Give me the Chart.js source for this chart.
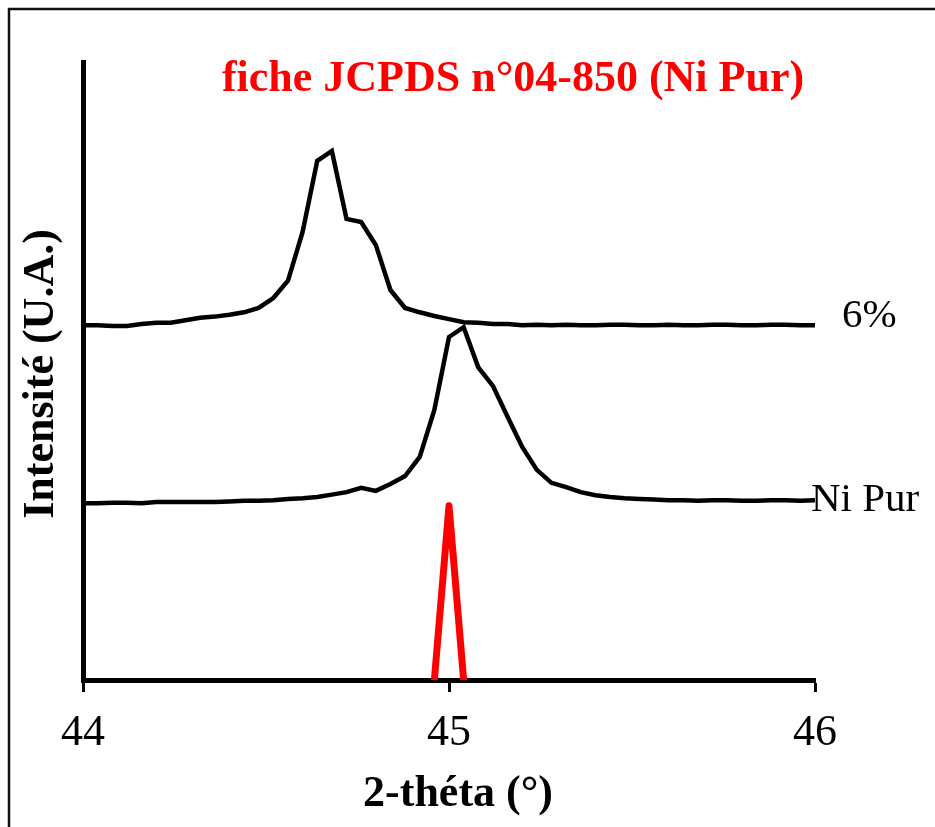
<!DOCTYPE html>
<html>
<head>
<meta charset="utf-8">
<title>DRX Ni</title>
<script src="https://cdn.jsdelivr.net/npm/chart.js@4.4.1/dist/chart.umd.min.js"></script>
<style>
  html, body { margin: 0; padding: 0; background: #fff; }
  #wrap { width: 935px; height: 827px; }
</style>
</head>
<body>
<div id="wrap"><canvas id="drx"></canvas></div>
<script>
// 2-theta grid (degrees), one step every 0.04
const twoTheta = [];
for (let k = 0; k <= 50; k++) twoTheta.push(+(44 + k * 0.04).toFixed(2));

// intensities (a.u.), curves already shifted for display
const int6pct = [
    574, 574, 573, 573, 576, 578, 578, 582, 586, 588,
    591, 595, 602, 618, 646, 725, 840, 856, 746, 741,
    704, 631, 602, 595, 589, 584, 579, 578, 576, 576,
    574, 575, 574, 575, 574, 574, 575, 575, 574, 574,
    575, 574, 574, 575, 575, 574, 574, 575, 575, 574, 574
];
const intNiPur = [
    286, 286, 287, 287, 286, 288, 288, 288, 288, 288,
    289, 290, 290, 291, 293, 294, 296, 300, 304, 311,
    306, 317, 330, 361, 437, 555, 571, 506, 476, 426,
    377, 340, 319, 312, 304, 299, 296, 294, 293, 292,
    291, 291, 290, 291, 291, 290, 290, 291, 291, 290, 291
];

// reference line, JCPDS card 04-850
const jcpdsTheta = [44.96, 45.00, 45.04];
const jcpdsInt = [0, 282, 0];

const toPoints = (xs, ys) => xs.map((x, i) => ({ x: x, y: ys[i] }));

const serif = "'Liberation Serif', 'Times New Roman', serif";

// frame + free text drawn straight on the canvas
const textPlugin = {
    id: "drxText",
    beforeDraw(chart) {
        const ctx = chart.ctx;
        ctx.save();
        ctx.strokeStyle = "#111";
        ctx.lineWidth = 2.5;
        ctx.beginPath();
        ctx.moveTo(9, chart.height);
        ctx.lineTo(9, 9);
        ctx.lineTo(chart.width, 9);
        ctx.stroke();
        ctx.restore();
    },
    afterDraw(chart) {
        const ctx = chart.ctx;
        ctx.save();
        ctx.textBaseline = "alphabetic";

        ctx.fillStyle = "#ff0000";
        ctx.textAlign = "center";
        ctx.font = "bold 44px " + serif;
        ctx.fillText("fiche JCPDS n°04-850 (Ni Pur)", 513, 91);

        ctx.fillStyle = "#000";
        ctx.textAlign = "left";
        ctx.font = "41px " + serif;
        ctx.fillText("6%", 842, 327);
        ctx.fillText("Ni Pur", 811, 511);

        ctx.textAlign = "center";
        ctx.font = "bold 44px " + serif;
        ctx.fillText("2-théta (°)", 458, 806);

        ctx.translate(53, 374);
        ctx.rotate(-Math.PI / 2);
        ctx.fillText("Intensité (U.A.)", 0, 0);
        ctx.restore();
    }
};

const lineSet = (label, data, color, width) => ({
    label: label,
    data: data,
    showLine: true,
    borderColor: color,
    borderWidth: width,
    pointRadius: 0,
    tension: 0,
    fill: false
});

new Chart(document.getElementById("drx"), {
    type: "scatter",
    data: {
        datasets: [
            lineSet("6%", toPoints(twoTheta, int6pct), "#000", 4.5),
            lineSet("Ni Pur", toPoints(twoTheta, intNiPur), "#000", 4.5),
            Object.assign(lineSet("JCPDS 04-850", toPoints(jcpdsTheta, jcpdsInt), "#ff0000", 7), {
                borderCapStyle: "round",
                borderJoinStyle: "round",
                clip: 0
            })
        ]
    },
    options: {
        responsive: true,
        maintainAspectRatio: false,
        animation: false,
        layout: { padding: { left: 83, right: 120, top: 62, bottom: 0 } },
        plugins: {
            legend: { display: false },
            tooltip: { enabled: false }
        },
        scales: {
            x: {
                type: "linear",
                min: 44,
                max: 46,
                afterFit: (s) => { s.height = 147; },
                border: { display: true, color: "#000", width: 5 },
                grid: {
                    drawOnChartArea: false,
                    drawTicks: true,
                    tickLength: 12,
                    tickWidth: 3,
                    tickColor: "#000"
                },
                ticks: {
                    stepSize: 1,
                    padding: 15,
                    color: "#000",
                    font: { family: serif, size: 44 },
                    maxRotation: 0
                }
            },
            y: {
                min: 0,
                max: 1000,
                afterFit: (s) => { s.width = 0; },
                border: { display: true, color: "#000", width: 5 },
                grid: { drawOnChartArea: false, drawTicks: false },
                ticks: { display: false }
            }
        }
    },
    plugins: [textPlugin]
});
</script>
</body>
</html>
